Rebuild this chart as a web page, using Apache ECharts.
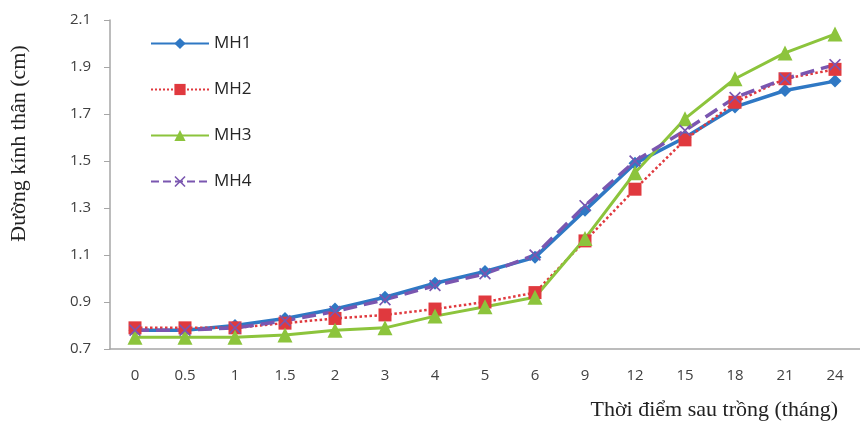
<!DOCTYPE html>
<html><head><meta charset="utf-8">
<script src="https://cdn.jsdelivr.net/npm/echarts@6/dist/echarts.min.js"></script>
<style>html,body{margin:0;padding:0;background:#fff}#c{width:860px;height:432px}</style>
</head><body><div id="c"></div>
<script>
const categories = ['0','0.5','1','1.5','2','3','4','5','6','9','12','15','18','21','24'];
const MH1 = [0.78,0.78,0.80,0.83,0.87,0.92,0.98,1.03,1.09,1.29,1.49,1.60,1.73,1.80,1.84];
const MH2 = [0.79,0.79,0.79,0.81,0.83,0.845,0.87,0.90,0.94,1.16,1.38,1.59,1.75,1.85,1.89];
const MH3 = [0.75,0.75,0.75,0.76,0.78,0.79,0.84,0.88,0.92,1.17,1.45,1.68,1.85,1.96,2.04];
const MH4 = [0.78,0.78,0.79,0.82,0.86,0.91,0.97,1.02,1.10,1.31,1.50,1.63,1.77,1.85,1.91];
const yTicks = [0.7,0.9,1.1,1.3,1.5,1.7,1.9,2.1];

const xPath = 'path://M2,0L10,8L18,0L20,2L12,10L20,18L18,20L10,12L2,20L0,18L8,10L0,2Z';
const labelFont = {fontFamily:'Open Sans', fontSize:15, color:'#404040'};
const chart = echarts.init(document.getElementById('c'));
function ser(name, data, color, symbol, size, type, width){
  return {name, type:'line', data, symbol, symbolSize:size, showSymbol:true,
    lineStyle:{color, width, type}, itemStyle:{color}, z: 2};
}
chart.setOption({
  animation:false,
  grid:{left:107, top:20, width:763, height:329, containLabel:false},
  legend:{orient:'vertical', left:145, top:30, itemWidth:58, itemHeight:14, itemGap:29,
    textStyle:{fontFamily:'Open Sans', fontSize:17, color:'#262626'},
    data:['MH1','MH2','MH3','MH4']},
  xAxis:{type:'category', data:categories, boundaryGap:true,
    axisLine:{lineStyle:{color:'#a6a6a6', width:1.5}}, axisTick:{show:false},
    axisLabel:Object.assign({margin:19, interval:0}, labelFont),
    name:'Thời điểm sau trồng (tháng)', nameLocation:'end', nameGap:-22,
    nameTextStyle:{fontFamily:'Liberation Serif', fontSize:22, color:'#222', align:'right', verticalAlign:'top', padding:[50,0,0,0]}},
  yAxis:{type:'value', min:0.7, max:2.1, interval:0.2,
    axisLine:{show:true, lineStyle:{color:'#a6a6a6', width:1.5}},
    axisTick:{show:true, length:6, lineStyle:{color:'#a6a6a6'}},
    splitLine:{show:false},
    axisLabel:Object.assign({margin:19, formatter:v=>{const t=yTicks.find(x=>Math.abs(x-v)<1e-6);return t!==undefined?t.toFixed(1):'';}}, labelFont),
    name:'Đường kính thân (cm)', nameLocation:'middle', nameGap:80, nameRotate:90,
    nameTextStyle:{fontFamily:'Liberation Serif', fontSize:22, color:'#222', padding:[0,0,0,82]}},
  series:[
    ser('MH1', MH1, '#2F78C4', 'diamond', 13, 'solid', 3.5),
    ser('MH2', MH2, '#E0393E', 'rect', 13, 'dotted', 2.5),
    ser('MH3', MH3, '#8CC43C', 'triangle', 15, 'solid', 3),
    ser('MH4', MH4, '#7A56B0', xPath, 12, 'dashed', 3.5)
  ]
});
</script></body></html>
